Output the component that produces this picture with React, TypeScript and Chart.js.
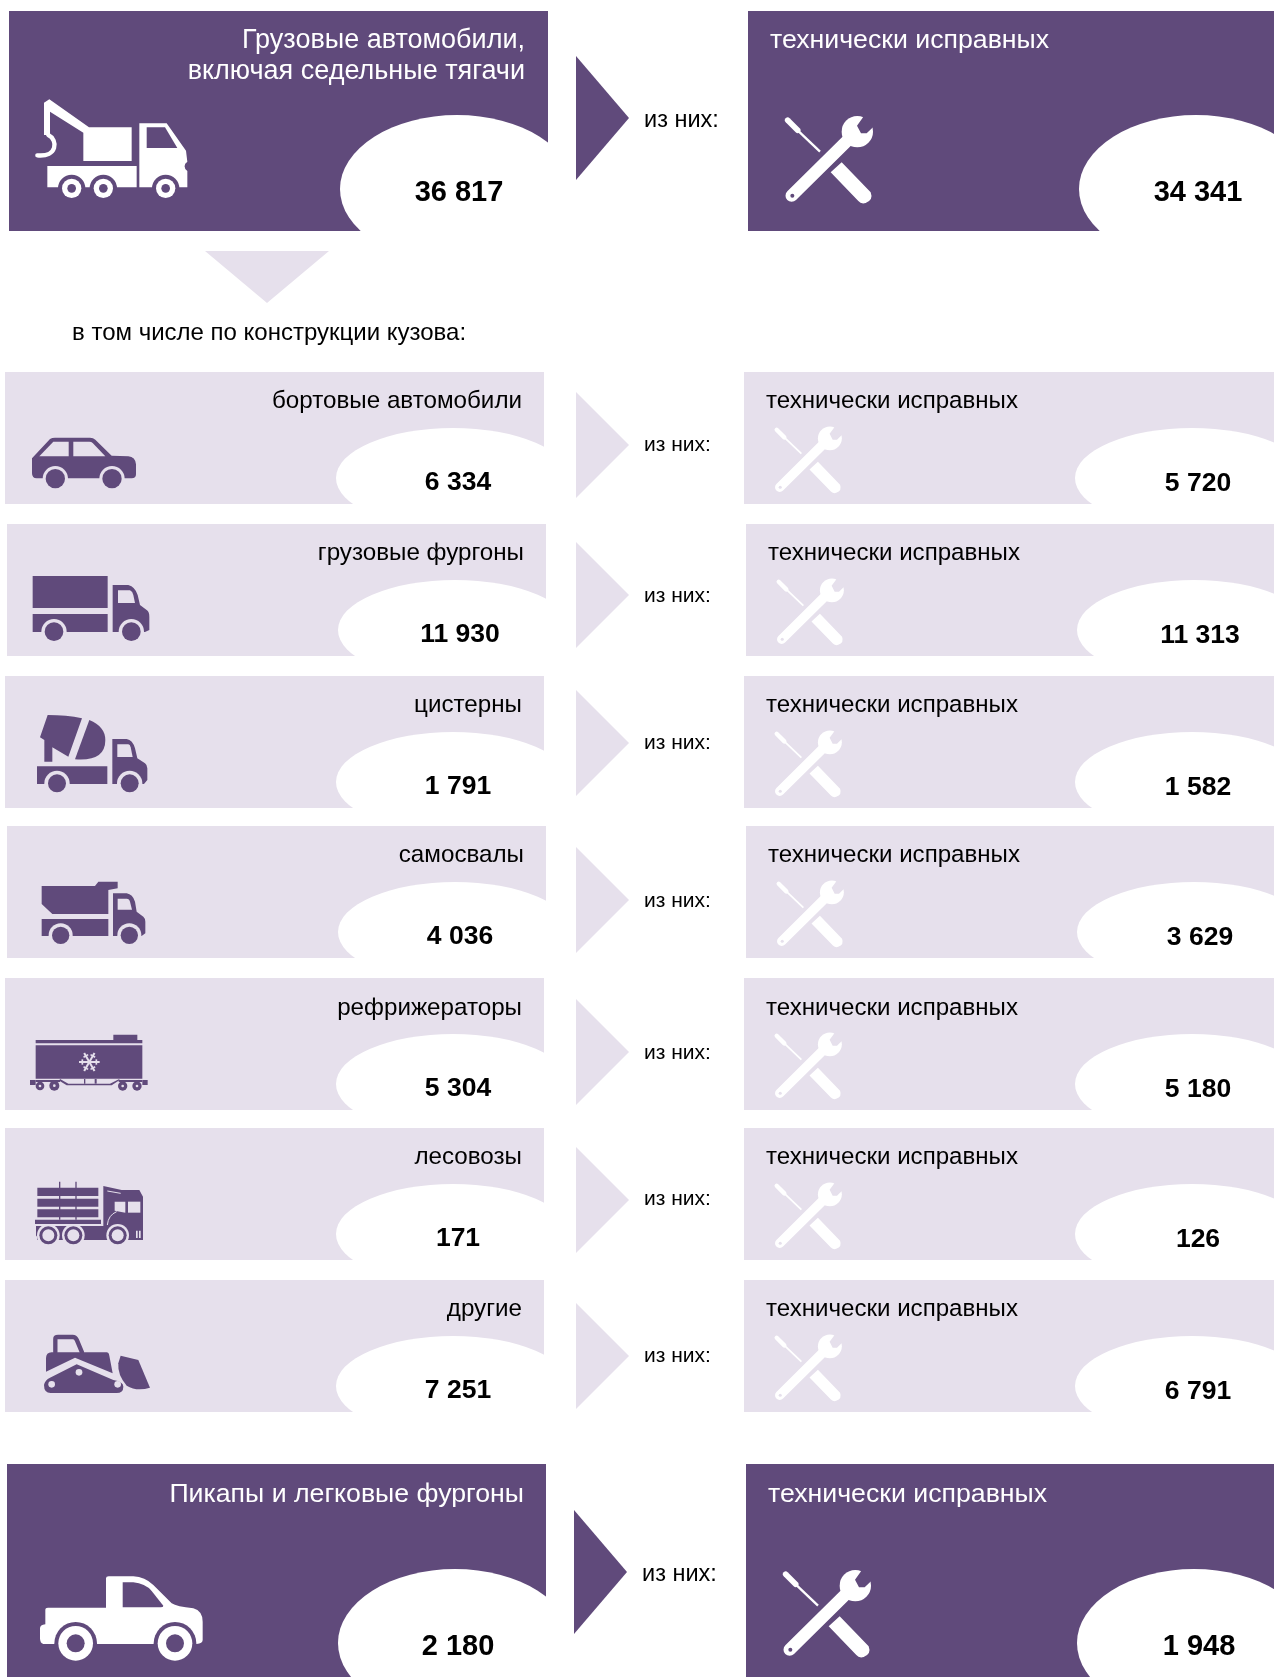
import React, { useEffect, useRef } from "react";
import { Chart, registerables } from "chart.js";

Chart.register(...registerables);

// ---------- data ----------
const categories = ["бортовые автомобили", "грузовые фургоны", "цистерны", "самосвалы", "рефрижераторы", "лесовозы", "другие"];
const categoryTotals = [6334, 11930, 1791, 4036, 5304, 171, 7251];
const categoryServiceable = [5720, 11313, 1582, 3629, 5180, 126, 6791];
const headTitle = ["Грузовые автомобили,", "включая седельные тягачи"];
const headTotal = 36817;
const headServiceable = 34341;
const pickupTitle = "Пикапы и легковые фургоны";
const pickupTotal = 2180;
const pickupServiceable = 1948;
const serviceableLabel = "технически исправных";
const ofThemLabel = "из них:";
const breakdownLabel = "в том числе по конструкции кузова:";

// ---------- layout (page pixels, used as scale values) ----------
const W = 1274, H = 1677;
const DARK = "#604a7b", LIGHT = "#e6e0ec";
const rowTop = [372, 524, 676, 826, 978, 1128, 1280];
const rowLeft = [5, 7, 5, 7, 5, 5, 5];
const rowRight = [744, 746, 744, 746, 744, 744, 744];
const rowArrowY = [445, 595, 743, 900, 1052, 1200, 1356];
const rowOfY = [445, 596, 743, 901, 1053, 1199, 1356];
const rowValueY = [483, 635, 787, 937, 1089, 1239, 1391];
const rowLabelY = [401, 553, 705, 855, 1008, 1157, 1309];
const ROW_H = 132, PANEL_W = 539;
const ELL_DX = 448;

const fmt = (v: number) => String(v).replace(/\B(?=(\d{3})+$)/g, " ");

type G = {
  fill: (d: string) => void;
  stroke: (d: string, w: number, cap?: CanvasLineCap) => void;
  cut: (d: string) => void;
  cutStroke: (d: string, w: number) => void;
};
const circ = (x: number, y: number, r: number) => `M${x - r} ${y}A${r} ${r} 0 1 0 ${x + r} ${y}A${r} ${r} 0 1 0 ${x - r} ${y}Z`;
const rect = (x0: number, y0: number, x1: number, y1: number) => `M${x0} ${y0}L${x1} ${y0}L${x1} ${y1}L${x0} ${y1}Z`;

function sprite(w: number, h: number, scale: number, color: string, paint: (g: G) => void) {
  const c = document.createElement("canvas");
  c.width = w; c.height = h;
  const x = c.getContext("2d")!;
  x.scale(scale, scale);
  x.fillStyle = color; x.strokeStyle = color;
  const g: G = {
    fill: (d) => { x.globalCompositeOperation = "source-over"; x.fill(new Path2D(d)); },
    stroke: (d, lw, cap = "round") => { x.globalCompositeOperation = "source-over"; x.lineWidth = lw; x.lineCap = cap; x.lineJoin = "round"; x.stroke(new Path2D(d)); },
    cut: (d) => { x.globalCompositeOperation = "destination-out"; x.fill(new Path2D(d)); },
    cutStroke: (d, lw) => { x.globalCompositeOperation = "destination-out"; x.lineWidth = lw; x.lineCap = "butt"; x.stroke(new Path2D(d)); },
  };
  paint(g);
  return c;
}

const wheels = (g: G, pts: [number, number][], arch: number, r: number, hole = 0) => {
  pts.forEach(([a, b]) => g.cut(circ(a, b, arch)));
  pts.forEach(([a, b]) => g.fill(circ(a, b, r)));
  if (hole) pts.forEach(([a, b]) => g.cut(circ(a, b, hole)));
};

const paintWrench = (g: G) => {
  g.stroke("M38 46L68 76", 17);
  g.stroke("M68 76L135 140", 7, "butt");
  g.fill("M167 202L200 172L287 262Q296 285 272 294Q258 298 250 288Z");
  g.stroke("M50 272L230 94", 37);
  g.fill(circ(247, 80, 47));
  g.cut("M262 40L246 62L258 85L275 85L294 67L320 20L280 10Z");
  g.cut(circ(52, 272, 6));
};
const paintTow = (g: G) => {
  g.fill("M72 68L88 58L207 142L335 142L335 243L190 243L190 158L90 95L90 165L72 165Z");
  g.stroke("M85 165C115 180 112 232 52 226", 13);
  g.fill("M358 130L440 130L498 212L502 245A16 16 0 0 0 502 273L502 322L358 322Z");
  g.fill(rect(82, 258, 350, 322));
  g.cut("M380 142L435 142L472 204L380 204Z");
  wheels(g, [[155, 325], [250, 325], [437, 325]], 41, 29, 13);
};
const paintCar = (g: G) => {
  g.fill("M36 100L90 42Q96 38 105 38L210 38Q220 38 226 44L275 92L325 94Q346 96 348 118L348 148Q348 160 335 160L50 160Q36 160 36 145Z");
  g.cut("M58 94L100 50L146 50L146 94Z");
  g.cut("M160 50L208 50Q214 50 218 54L256 94L160 94Z");
  wheels(g, [[106, 161], [276, 161]], 38, 29);
};
const paintVan = (g: G) => {
  g.fill(rect(98, 648, 323, 744));
  g.fill(rect(98, 762, 323, 816));
  g.fill("M338 675L385 675Q405 680 413 705L420 735L440 750Q448 755 448 770L448 810L435 816L338 816Z");
  g.cut("M354 691L390 691Q398 695 400 705L405 729L354 729Z");
  wheels(g, [[162, 815], [394, 815]], 38, 28);
};
const paintMixer = (g: G) => {
  g.fill("M143 165Q200 165 246 175L205 290L157 262L157 305L133 305L133 240L120 232Z");
  g.fill("M268 180Q316 200 316 240Q316 305 225 298Z");
  g.fill(rect(111, 319, 322, 372));
  g.fill("M337 237L380 237Q398 240 405 265L412 295L435 310Q442 315 442 325L442 360L432 372L337 372Z");
  g.cut("M352 253L385 253Q390 253 392 262L398 291L352 291Z");
  wheels(g, [[171, 370], [389, 370]], 38, 27);
};
const paintDump = (g: G) => {
  g.fill("M125 678L285 678L295 665L353 665L353 685L325 690L325 762L157 762L125 732Z");
  g.fill(rect(125, 777, 325, 828));
  g.fill("M339 700L380 700Q398 703 405 725L410 755L430 770Q436 775 436 785L436 820L425 828L339 828Z");
  g.cut("M353 716L380 716Q388 716 390 725L396 749L353 749Z");
  wheels(g, [[182, 826], [388, 826]], 36, 26);
};
const paintReefer = (g: G) => {
  g.fill("M107 180L340 180L340 164L412 164L412 180L427 180L427 190L107 190Z");
  g.fill(rect(107, 196, 427, 296));
  const cx = 268, cy = 246;
  [0, 60, 120].forEach((deg) => {
    const a = (deg * Math.PI) / 180, dx = Math.cos(a), dy = Math.sin(a);
    g.cutStroke(`M${cx - 31 * dx} ${cy - 31 * dy}L${cx + 31 * dx} ${cy + 31 * dy}`, 6);
    [-1, 1].forEach((s) => {
      const bx = cx + s * 21 * dx, by = cy + s * 21 * dy;
      g.cutStroke(`M${bx - 8 * dy} ${by + 8 * dx}L${bx + 8 * dy} ${by - 8 * dx}`, 5);
    });
  });
  g.fill(rect(90, 300, 107, 315));
  g.fill(rect(427, 300, 443, 315));
  g.fill(rect(107, 300, 180, 306));
  g.fill(rect(356, 300, 427, 306));
  g.fill("M180 297L205 311L330 311L358 297L358 301L335 316L200 316L178 302Z");
  g.fill(rect(252, 297, 256, 311));
  g.fill(rect(284, 297, 290, 311));
  [[120, 318, 13], [163, 317, 15], [368, 318, 14], [411, 318, 14]].forEach(([a, b, r]) => {
    g.fill(circ(a, b, r));
    g.cut(circ(a, b, 4));
  });
};
const paintLog = (g: G) => {
  g.fill(rect(112, 623, 295, 648));
  g.fill(rect(112, 656, 295, 680));
  g.fill(rect(112, 688, 295, 712));
  g.fill(rect(105, 719, 303, 732));
  g.fill(rect(177, 605, 181, 719));
  g.fill(rect(226, 605, 230, 719));
  g.fill("M310 618L365 630L418 630L429 650L429 780L310 780Z");
  g.cut("M344 665L376 665L376 698L344 692Z");
  g.cut(rect(384, 665, 421, 698));
  g.cutStroke("M350 695Q325 705 322 735", 3);
  g.cutStroke("M322 633L362 640", 3);
  g.cut(rect(408, 752, 413, 774));
  g.cut(rect(417, 752, 422, 774));
  g.fill(rect(108, 738, 320, 780));
  wheels(g, [[145, 766], [220, 766], [353, 766]], 34, 27, 18);
  g.cut("M100 780L112 765L112 800L100 800Z");
};
const paintDozer = (g: G) => {
  g.stroke("M76 82L76 42Q76 36 84 36L128 36Q136 36 140 44L156 82", 13);
  g.fill("M48 132L48 100Q48 82 65 82L230 82Q236 82 238 92L248 145L135 98L48 140Z");
  g.fill("M42 180Q45 165 60 158L140 118L250 165Q280 170 280 185Q280 204 260 204L62 204Q42 204 42 180Z");
  g.cut(circ(65, 178, 10));
  g.cut(circ(147, 142, 10));
  g.cut(circ(263, 178, 10));
  g.fill("M272 92L325 105L360 188Q320 200 290 182Q262 150 265 115Z");
};
const paintPickup = (g: G) => {
  g.fill("M228 40Q228 34 236 34L310 34Q345 36 370 60L425 115Q440 125 490 130Q518 138 518 170L518 225Q518 235 500 237L40 237Q30 235 30 220L30 190Q30 180 46 178L46 135Q46 128 54 128L228 128Z");
  g.cut("M278 52L310 52Q345 55 365 78L400 122Q400 127 392 127L278 127Z");
  wheels(g, [[137, 235], [435, 235]], 64, 52, 27);
};
const ellipseSprite = (ry: number, visible: number) =>
  sprite(234, visible, 1, "#ffffff", (g) => g.fill(`M0 ${ry}A117 ${ry} 0 1 1 234 ${ry}A117 ${ry} 0 1 1 0 ${ry}Z`));
const arrowRight = (h: number, color: string) => sprite(54, h, 1, color, (g) => g.fill(`M0 0L53 ${h / 2}L0 ${h}Z`));

type T = { s: string; x: number; y: number; font: string; color: string; align: CanvasTextAlign };

export default function App() {
  const ref = useRef<HTMLCanvasElement | null>(null);
  useEffect(() => {
    document.body.style.margin = "0";

    const FONT = '"Liberation Sans", Arial, sans-serif';
    const texts: T[] = [];
    const add = (s: string, x: number, y: number, size: number, color: string, align: CanvasTextAlign, bold = false) =>
      texts.push({ s, x, y, font: `${bold ? "bold " : ""}${size}px ${FONT}`, color, align });

    add(headTitle[0], 525, 41, 27, "#ffffff", "right");
    add(headTitle[1], 525, 72, 27, "#ffffff", "right");
    add(serviceableLabel, 770, 41, 26.7, "#ffffff", "left");
    add(ofThemLabel, 644, 121, 23.5, "#000000", "left");
    add(fmt(headTotal), 459, 193, 29, "#000000", "center", true);
    add(fmt(headServiceable), 1198, 193, 29, "#000000", "center", true);
    add(breakdownLabel, 72, 333, 24, "#000000", "left");
    categories.forEach((c, i) => {
      add(c, rowLeft[i] + 517, rowLabelY[i], 24.2, "#000000", "right");
      add(serviceableLabel, rowRight[i] + 22, rowLabelY[i], 24.1, "#000000", "left");
      add(ofThemLabel, 644, rowOfY[i], 21, "#000000", "left");
      add(fmt(categoryTotals[i]), rowLeft[i] + 453, rowValueY[i], 26.5, "#000000", "center", true);
      add(fmt(categoryServiceable[i]), rowRight[i] + 454, rowValueY[i] + 1, 26.5, "#000000", "center", true);
    });
    add(pickupTitle, 524, 1495, 26.7, "#ffffff", "right");
    add(serviceableLabel, 768, 1495, 26.7, "#ffffff", "left");
    add(ofThemLabel, 642, 1575, 23.5, "#000000", "left");
    add(fmt(pickupTotal), 458, 1647, 29, "#000000", "center", true);
    add(fmt(pickupServiceable), 1199, 1647, 29, "#000000", "center", true);

    const textPlugin = {
      id: "infographicText",
      afterDatasetsDraw(chart: any) {
        const { ctx, scales } = chart;
        ctx.save();
        ctx.textBaseline = "middle";
        texts.forEach((t) => {
          ctx.font = t.font;
          ctx.fillStyle = t.color;
          ctx.textAlign = t.align;
          ctx.fillText(t.s, scales.x.getPixelForValue(t.x), scales.y.getPixelForValue(t.y));
        });
        ctx.restore();
      },
    };

    const bar = (color: string, thickness: number, data: any[]) => ({
      type: "bar" as const,
      indexAxis: "y" as const,
      data,
      backgroundColor: color,
      borderWidth: 0,
      inflateAmount: 0,
      barThickness: thickness,
      grouped: false,
      order: 5,
    });
    const marks = (pts: { x: number; y: number }[], styles: HTMLCanvasElement[], order: number) => ({
      type: "scatter" as const,
      data: pts,
      showLine: false,
      pointStyle: (c: any) => styles[c.dataIndex],
      pointRadius: 3,
      order,
    });

    const wrenchBig = sprite(110, 106, 1 / 3, "#ffffff", paintWrench);
    const wrenchSmall = sprite(84, 80, 84 / 330, "#ffffff", paintWrench);
    const rowArrow = arrowRight(106, LIGHT);
    const bigArrow = arrowRight(124, DARK);
    const rowEll = ellipseSprite(50, 76);
    const bigEll = ellipseSprite(74, 116);
    const pickEll = ellipseSprite(74, 108);
    const downArrow = sprite(124, 52, 1, LIGHT, (g) => g.fill("M0 0L124 0L62 52Z"));

    const ellipsePts = [
      { x: 457, y: 173 }, { x: 1196, y: 173 },
      ...rowTop.flatMap((t, i) => [{ x: rowLeft[i] + ELL_DX, y: t + 94 }, { x: rowRight[i] + ELL_DX, y: t + 94 }]),
      { x: 455, y: 1623 }, { x: 1194, y: 1623 },
    ];
    const ellipseStyles = [
      bigEll, bigEll,
      ...rowTop.flatMap(() => [rowEll, rowEll]),
      pickEll, pickEll,
    ];

    const arrowPts = [{ x: 603, y: 118 }, ...rowArrowY.map((y) => ({ x: 603, y })), { x: 601, y: 1572 }, { x: 267, y: 277 }];
    const arrowStyles = [bigArrow, ...rowArrowY.map(() => rowArrow), bigArrow, downArrow];

    const iconPts = [
      { x: 110, y: 145 },
      { x: 85, y: 460 },
      { x: 100, y: 510 },
      { x: 150, y: 810 },
      { x: 150, y: 810 },
      { x: 150, y: 1130 },
      { x: 150, y: 1130 },
      { x: 95, y: 1362 },
      { x: 120, y: 1617 },
      { x: 830, y: 158 },
      ...rowTop.map((t, i) => ({ x: rowRight[i] + 65, y: t + 86 })),
      { x: 828, y: 1612 },
    ];
    const iconStyles = [
      sprite(180, 130, 1 / 3, "#ffffff", paintTow),
      sprite(130, 70, 1 / 3, DARK, paintCar),
      sprite(200, 300, 1 / 3, DARK, paintVan),
      sprite(300, 300, 1 / 3, DARK, paintMixer),
      sprite(300, 300, 1 / 3, DARK, paintDump),
      sprite(300, 300, 1 / 3, DARK, paintReefer),
      sprite(300, 300, 1 / 3, DARK, paintLog),
      sprite(130, 74, 1 / 3, DARK, paintDozer),
      sprite(180, 104, 1 / 3, "#ffffff", paintPickup),
      wrenchBig,
      ...rowTop.map(() => wrenchSmall),
      wrenchBig,
    ];

    const chart = new Chart(ref.current!, {
      type: "bar",
      data: {
        datasets: [
          marks(iconPts, iconStyles, 1),
          marks(ellipsePts, ellipseStyles, 3),
          marks(arrowPts, arrowStyles, 4),
          bar(DARK, 220, [{ x: [9, 548], y: 121 }, { x: [748, W], y: 121 }]),
          bar(DARK, 214, [{ x: [7, 546], y: 1571 }, { x: [746, W], y: 1571 }]),
          bar(LIGHT, ROW_H, rowTop.flatMap((t, i) => [
            { x: [rowLeft[i], rowLeft[i] + PANEL_W], y: t + ROW_H / 2 },
            { x: [rowRight[i], W], y: t + ROW_H / 2 },
          ])),
        ] as any,
      },
      options: {
        animation: false,
        responsive: false,
        devicePixelRatio: 1,
        layout: { padding: 0, autoPadding: false },
        events: [],
        plugins: { legend: { display: false }, tooltip: { enabled: false }, title: { display: false } },
        scales: {
          x: { type: "linear", min: 0, max: W, offset: false, display: false },
          y: { type: "linear", min: 0, max: H, reverse: true, offset: false, display: false },
        },
      },
      plugins: [textPlugin],
    });
    return () => chart.destroy();
  }, []);
  return <canvas ref={ref} width={W} height={H} style={{ display: "block" }} />;
}
